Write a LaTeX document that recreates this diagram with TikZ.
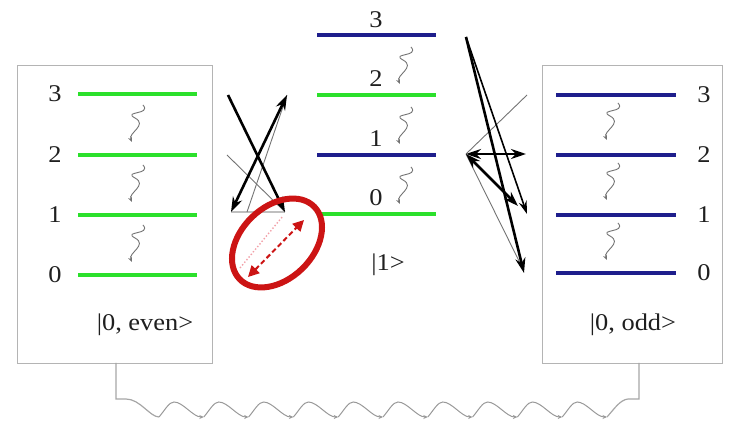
\documentclass[tikz,border=0pt]{standalone}
\usepackage{fontspec}
\setmainfont[FakeStretch=1.1]{Liberation Serif}
\usetikzlibrary{arrows.meta,shapes.geometric}
\definecolor{lvgreen}{HTML}{2BE02B}
\definecolor{lvblue}{HTML}{1E1E8C}
\definecolor{boxgray}{HTML}{B4B4B4}
\definecolor{redc}{HTML}{CC1414}
\definecolor{pinkc}{HTML}{F2A0A8}
\begin{document}
\begin{tikzpicture}[x=1pt,y=-1pt,
  lev/.style={line width=3.3pt},
  glev/.style={lev, draw=lvgreen},
  blev/.style={lev, draw=lvblue},
  lbl/.style={font=\fontsize{24}{27}\selectfont, inner sep=0pt, text=black!88},
  panel/.style={draw=boxgray, line width=1.2pt, inner sep=0pt, fill=white},
  relax/.style={draw=black!55, line width=0.9pt, -{Stealth[length=5pt,width=4pt]}},
  bigarr/.style={line width=2.6pt, -{Stealth[length=15pt,width=10pt]}},
  bigdarr/.style={line width=2.6pt, {Stealth[length=15pt,width=10pt]}-{Stealth[length=15pt,width=10pt]}},
  midarr/.style={line width=1.6pt, -{Stealth[length=13pt,width=8pt]}},
  thinln/.style={draw=black!55, line width=0.9pt},
  faintln/.style={draw=black!25, line width=1.2pt},
  wave/.style={draw=black!40, line width=1pt, -{Stealth[length=4.5pt,width=4pt]}},
  link/.style={draw=black!35, line width=1.2pt}
]
\useasboundingbox (0,0) rectangle (740,427);

% panels
\node[panel, anchor=north west, minimum width=195pt, minimum height=298pt] (boxL) at (17,65) {};
\node[panel, anchor=north west, minimum width=180pt, minimum height=298pt] (boxR) at (542,65) {};

% left levels (even)
\foreach \n/\y in {3/94,2/155,1/215,0/275}{
  \draw[glev] (78,\y) -- (197,\y);
  \node[lbl] (lL\n) at (55,\y) {\n};
}
% middle levels
\draw[blev] (317,35) -- (436,35);
\draw[glev] (317,95) -- (436,95);
\draw[blev] (317,155) -- (436,155);
\draw[glev] (317,214) -- (436,214);
\node[lbl] (lM3) at (376,20) {3};
\node[lbl] (lM2) at (376,79) {2};
\node[lbl] (lM1) at (376,139) {1};
\node[lbl] (lM0) at (376,198) {0};
% right levels (odd)
\foreach \n/\y in {3/95,2/155,1/215,0/273}{
  \draw[blev] (556,\y) -- (676,\y);
  \node[lbl] (lR\n) at (704,\y) {\n};
}

% state labels
\node[lbl] (sL) at (145,325) {|0, even>};
\node[lbl] (sM) at (388,265) {|1>};
\node[lbl] (sR) at (633,325) {|0, odd>};

% relaxation squiggles
\foreach \x/\y in {143/105,143/165,143/225, 618/103,618/163,618/223, 411/47,411/107,411/167}{
  \draw[relax] (\x,\y) .. controls +(9,10) and +(-13,-7) .. ++(-8,13)
                       .. controls +(13,7) and +(-4,-9) .. ++(-3,24);
}

% left-side transitions
\coordinate (A) at (228,95);
\coordinate (B) at (287,95);
\coordinate (C) at (231,212);
\coordinate (D) at (285,212);
\coordinate (E) at (227,155);
\coordinate (F) at (247,212);
\draw[faintln] (C) -- (D);
\draw[thinln] (E) -- (D);
\draw[thinln] (F) -- (B);
\draw[bigarr] (A) -- (D);
\draw[bigdarr] (C) -- (B);

% right-side transitions
\coordinate (P) at (466,37);
\coordinate (Q) at (466,154);
\coordinate (R1) at (527,95);
\coordinate (R2) at (526,154);
\coordinate (R3) at (518,206);
\coordinate (R3b) at (527,214);
\coordinate (R4) at (524,273);
\coordinate (R4b) at (522,267);
\draw[thinln] (Q) -- (R1);
\draw[thinln] (Q) -- (R4b);
\draw[midarr] (P) -- (R3b);
\draw[bigarr] (P) -- (R4);
\draw[bigdarr] (Q) -- (R2);
\draw[bigdarr] (Q) -- (R3);

% red ellipse with dashed double arrow
\node[draw=redc, line width=6pt, ellipse, inner sep=0pt, minimum width=104pt, minimum height=72pt, rotate=44] (ell) at (277,243) {};
\coordinate (p1) at (240,268);
\coordinate (p2) at (283,216);
\coordinate (d1) at (248,277);
\coordinate (d2) at (304,220);
\draw[pinkc, line width=1.4pt, dotted] (p1) -- (p2);
\draw[redc, line width=2pt, dash pattern=on 5pt off 3pt, {Triangle[length=11pt,width=11pt]}-{Triangle[length=11pt,width=11pt]}] (d1) -- (d2);

% bottom wavy link
\coordinate (wL) at (116,363);
\coordinate (wR) at (639,363);
\draw[link] (wL) -- (116,399) -- (126,399) .. controls (140,399) and (150,417) .. (159,417);
\foreach \k in {0,...,9}{
  \pgfmathsetmacro{\xa}{159+44.8*\k}
  \draw[wave] (\xa,417) .. controls (\xa+6,410) and (\xa+10,402) .. (\xa+15,402)
               .. controls (\xa+24,402) and (\xa+34,417) .. (\xa+44.8,417);
}
\draw[link] (607,417) .. controls (615,408) and (620,400) .. (628,399) -- (639,399) -- (wR);
\end{tikzpicture}
\end{document}
